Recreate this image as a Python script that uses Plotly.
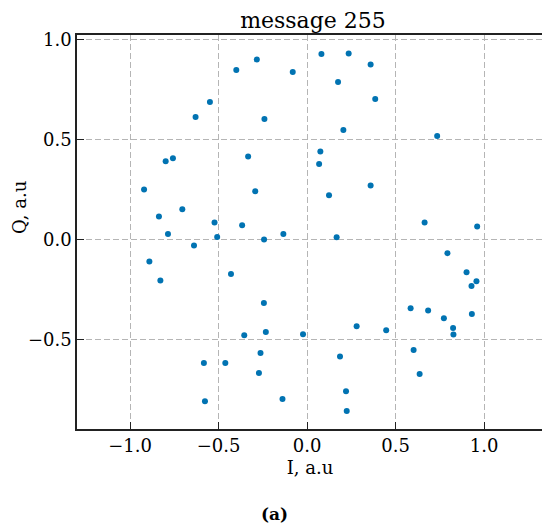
import plotly.graph_objects as go

# I / Q values
i_vals = [
    -0.284, -0.40, -0.081, -0.549, -0.630, -0.241, -0.799, -0.758, -0.333, -0.921,
    -0.293, -0.705, -0.837, -0.523, -0.367, -0.786, -0.134, -0.508, -0.243,
    0.081, 0.235, 0.359, 0.175, 0.385, 0.205, 0.735, 0.075, 0.068, 0.359,
    0.124, 0.664, 0.961, 0.167,
    -0.891, -0.639, -0.829, -0.430, -0.244, -0.355, -0.233, -0.023, -0.263, -0.583,
    -0.462, -0.272, -0.577, -0.139,
    0.793, 0.901, 0.957, 0.929, 0.585, 0.684, 0.773, 0.931, 0.825, 0.827,
    0.280, 0.447, 0.602, 0.636, 0.186, 0.220, 0.224,
]
q_vals = [
    0.900, 0.847, 0.837, 0.688, 0.612, 0.602, 0.392, 0.407, 0.415, 0.250,
    0.242, 0.152, 0.115, 0.085, 0.072, 0.028, 0.028, 0.013, 0.000,
    0.927, 0.930, 0.875, 0.788, 0.703, 0.547, 0.518, 0.440, 0.378, 0.270,
    0.222, 0.085, 0.065, 0.012,
    -0.110, -0.030, -0.205, -0.172, -0.317, -0.478, -0.462, -0.473, -0.567, -0.617,
    -0.617, -0.667, -0.808, -0.797,
    -0.068, -0.163, -0.208, -0.232, -0.343, -0.355, -0.393, -0.372, -0.442, -0.475,
    -0.433, -0.453, -0.552, -0.672, -0.585, -0.758, -0.857,
]

x_ticks = [-1.0, -0.5, 0.0, 0.5, 1.0]
x_tick_labels = ["\u22121.0", "\u22120.5", "0.0", "0.5", "1.0"]
y_ticks = [-0.5, 0.0, 0.5, 1.0]
y_tick_labels = ["\u22120.5", "0.0", "0.5", "1.0"]

title_text = "message 255"
x_title = "I, a.u"
y_title = "Q, a.u"
caption = "(a)"

FONT = "DejaVu Serif"
W, H = 542, 522  # page body adds an 8px margin

fig = go.Figure()
fig.add_trace(go.Scatter(
    x=i_vals, y=q_vals, mode="markers",
    marker=dict(color="#0173b2", size=6, line=dict(width=0)),
    showlegend=False,
))

axis_common = dict(
    showline=True, linecolor="#222222", linewidth=1.6, mirror=True,
    ticks="inside", ticklen=7, tickwidth=1.2, tickcolor="#222222",
    showgrid=True, gridcolor="#b5b5b5", griddash="6px,3px", gridwidth=1,
    zeroline=False, automargin=False,
    tickfont=dict(family=FONT, size=18, color="black"),
)

fig.update_layout(
    width=W, height=H,
    margin=dict(l=69, r=7, t=27, b=101),
    paper_bgcolor="white", plot_bgcolor="white",
    title=dict(text=title_text, x=305 / W, xanchor="center", y=1 - 12 / H, yanchor="middle",
               font=dict(family=FONT, size=22, color="black")),
    xaxis=dict(range=[-1.3, 1.333], tickvals=x_ticks, ticktext=x_tick_labels,
               title=dict(text=x_title, font=dict(family=FONT, size=18, color="black"), standoff=6),
               **axis_common),
    yaxis=dict(range=[-0.947, 1.0225], tickvals=y_ticks, ticktext=y_tick_labels,
               **axis_common),
    annotations=[
        dict(text=y_title, xref="paper", yref="paper",
             x=-(77 - 19) / 466, y=(429 - 208) / 394, xanchor="center", yanchor="middle",
             textangle=-90, showarrow=False, borderpad=0,
             font=dict(family=FONT, size=18, color="black")),
        dict(text="<b>" + caption + "</b>", xref="paper", yref="paper",
             x=(274 - 77) / 466, y=-(514 - 429) / 394, xanchor="center", yanchor="middle",
             showarrow=False,
             font=dict(family=FONT, size=17, color="black")),
    ],
)

fig.write_html("out.html")
